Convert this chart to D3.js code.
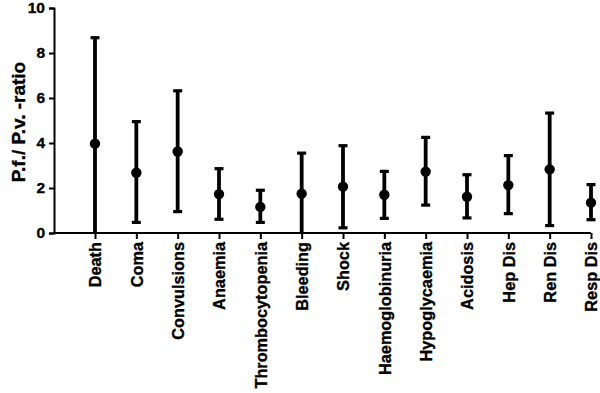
<!DOCTYPE html>
<html>
<head>
<meta charset="utf-8">
<script src="https://d3js.org/d3.v7.min.js"></script>
<style>
  body { margin: 0; background: #fff; }
  svg text { font-family: "Liberation Sans", Arial, sans-serif; font-weight: bold; fill: #000; stroke: #000; stroke-width: 0.35px; }
</style>
</head>
<body>
<div id="chart"></div>
<script>
// data
const categories = ["Death", "Coma", "Convulsions", "Anaemia", "Thrombocytopenia", "Bleeding",
  "Shock", "Haemoglobinuria", "Hypoglycaemia", "Acidosis", "Hep Dis", "Ren Dis", "Resp Dis"];
const ratio = [3.97, 2.68, 3.62, 1.73, 1.16, 1.75, 2.06, 1.70, 2.73, 1.61, 2.13, 2.83, 1.35];
const lower = [0, 0.47, 0.95, 0.61, 0.47, 0, 0.23, 0.65, 1.24, 0.67, 0.86, 0.33, 0.59];
const upper = [8.68, 4.95, 6.32, 2.86, 1.90, 3.55, 3.88, 2.74, 4.25, 2.59, 3.44, 5.33, 2.15];
const yTicks = [0, 2, 4, 6, 8, 10];

const width = 600, height = 393;
const x0 = 54, yTop = 8, yBottom = 233;

const svg = d3.select("#chart").append("svg")
  .attr("width", width)
  .attr("height", height);

const data = categories.map((c, i) => ({ name: c, v: ratio[i], lo: lower[i], hi: upper[i] }));

const x = d3.scalePoint()
  .domain(categories)
  .range([95, 591]);

const y = d3.scaleLinear()
  .domain([0, 10])
  .range([yBottom, yTop]);

// x axis
const xAxis = svg.append("g")
  .attr("transform", "translate(0," + yBottom + ")")
  .call(d3.axisBottom(x).tickSizeOuter(0).tickSize(6));
xAxis.select(".domain").attr("d", "M" + x0 + ",0H" + x(categories[categories.length - 1]));
xAxis.selectAll("path, line").attr("stroke", "#000").attr("stroke-width", 2);
xAxis.selectAll("text")
  .attr("font-size", 16.3)
  .attr("transform", "rotate(-90)")
  .attr("text-anchor", "end")
  .attr("x", -9)
  .attr("y", 0)
  .attr("dy", "0.36em");

// y axis
const yAxis = svg.append("g")
  .attr("transform", "translate(" + x0 + ",0)")
  .call(d3.axisLeft(y).tickValues(yTicks).tickSizeOuter(0).tickSize(5).tickPadding(4));
yAxis.selectAll("path, line").attr("stroke", "#000").attr("stroke-width", 2);
yAxis.selectAll("text").attr("font-size", 15.5);

svg.append("text")
  .attr("transform", "translate(25," + 122 + ") rotate(-90)")
  .attr("text-anchor", "middle")
  .attr("font-size", 19)
  .text("P.f./ P.v. -ratio");

// error bars
const bars = svg.append("g").selectAll("g")
  .data(data)
  .join("g");

bars.append("line")
  .attr("x1", d => x(d.name)).attr("x2", d => x(d.name))
  .attr("y1", d => y(d.lo)).attr("y2", d => y(d.hi))
  .attr("stroke", "#000").attr("stroke-width", 3.8);

bars.filter(d => d.lo > 0).append("line")
  .attr("x1", d => x(d.name) - 4.5).attr("x2", d => x(d.name) + 4.5)
  .attr("y1", d => y(d.lo)).attr("y2", d => y(d.lo))
  .attr("stroke", "#000").attr("stroke-width", 3.2);

bars.append("line")
  .attr("x1", d => x(d.name) - 4.5).attr("x2", d => x(d.name) + 4.5)
  .attr("y1", d => y(d.hi)).attr("y2", d => y(d.hi))
  .attr("stroke", "#000").attr("stroke-width", 3.2);

bars.append("circle")
  .attr("cx", d => x(d.name))
  .attr("cy", d => y(d.v))
  .attr("r", 5.2)
  .attr("fill", "#000");
</script>
</body>
</html>
